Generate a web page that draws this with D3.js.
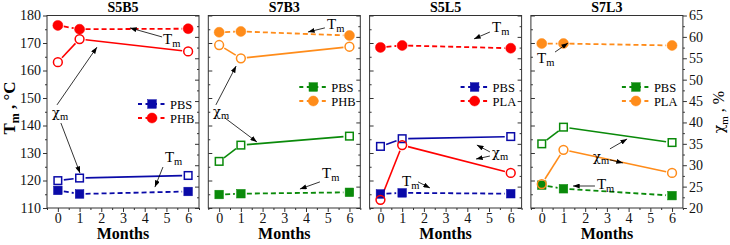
<!DOCTYPE html>
<html lang="en">
<head>
<meta charset="utf-8" />
<title>Tm and crystallinity vs months</title>
<!-- D3 -->
<script src="https://cdnjs.cloudflare.com/ajax/libs/d3/7.8.5/d3.min.js"></script>
<style>
  html, body { margin: 0; padding: 0; background: #fff; }
  svg { display: block; font-family: "Liberation Serif", "Times New Roman", serif; }
  .chi { font-family: "DejaVu Serif", serif; }
</style>
</head>
<body>
<div id="chart"></div>
<script>
// months at which the samples were measured
var months = [0, 1, 6];
var panelNames = ["S5B5", "S7B3", "S5L5", "S7L3"];
var partnerNames = ["PHB", "PHB", "PLA", "PLA"];

// melting temperature Tm, °C (left axis)
var pbsTm = [[116.4, 115.1, 116.0], [114.9, 115.2, 115.7], [115.1, 115.5, 115.2], [118.3, 117.0, 114.5]];
var partnerTm = [[176.4, 175.0, 175.2], [173.9, 174.2, 172.7], [168.4, 169.1, 168.1], [169.8, 169.8, 169.1]];

// crystallinity χm, % (right axis)
var pbsXm = [[26.4, 27.0, 27.6], [30.9, 34.7, 36.8], [34.4, 36.2, 36.7], [35.0, 38.9, 35.3]];
var partnerXm = [[54.1, 59.5, 56.6], [58.1, 55.0, 57.7], [21.9, 34.7, 28.2], [25.6, 33.6, 28.2]];

// tick labels
var tmTicks = [110, 120, 130, 140, 150, 160, 170, 180];
var xmTicks = [20, 25, 30, 35, 40, 45, 50, 55, 60, 65];
var monthTicks = [0, 1, 2, 3, 4, 5, 6];

// arrow notes, in data units (month, °C on left axis)
var notes = [
  [{label: "T", at: [4.84, 169.8], arrows: [[4.80, 172.2, 3.32, 175.5]]},
   {label: "χ", at: [-0.27, 143.1], arrows: [[-0.04, 147.5, 1.80, 168.5], [0.14, 140.9, 1.02, 122.7]]},
   {label: "T", at: [4.93, 126.7], arrows: [[4.84, 124.9, 4.47, 117.6]]}],
  [{label: "T", at: [4.97, 175.1], arrows: [[4.87, 175.5, 4.09, 174.0]]},
   {label: "χ", at: [-0.28, 143.5], arrows: [[-0.15, 147.5, 0.78, 161.6], [0.27, 142.7, 1.74, 134.0]]},
   {label: "T", at: [4.74, 120.9], arrows: [[4.64, 119.5, 3.72, 116.9]]}],
  [{label: "T", at: [5.14, 174.0], arrows: [[5.04, 174.0, 4.31, 171.5]]},
   {label: "χ", at: [5.14, 128.5], arrows: [[5.04, 130.4, 4.44, 132.9], [5.04, 128.9, 4.40, 127.8]]},
   {label: "T", at: [0.99, 118.0], arrows: [[1.73, 119.5, 2.28, 117.3]]}],
  [{label: "T", at: [-0.22, 162.7], arrows: [[0.61, 166.7, 1.21, 170.0]]},
   {label: "χ", at: [2.36, 127.1], arrows: [[3.14, 131.5, 3.93, 135.1], [3.14, 127.5, 3.74, 126.4]]},
   {label: "T", at: [2.54, 116.9], arrows: [[2.45, 118.0, 1.44, 118.0]]}]
];

// colours per panel
var pbsColors = ["#0a0aa8", "#0a8a0a", "#0a0aa8", "#0a8a0a"];
var partnerColors = ["#ff0000", "#ff8c1a", "#ff0000", "#ff8c1a"];

// layout
var panelLeft = 47, panelWidth = 152, panelGap = 9.3;
var plotTop = 15.5, plotBottom = 208;

var svg = d3.select("#chart").append("svg")
    .attr("width", 730)
    .attr("height", 245);

// arrow head
svg.append("defs").append("marker")
    .attr("id", "arrow")
    .attr("viewBox", "0 0 8 6")
    .attr("refX", 8).attr("refY", 3)
    .attr("markerWidth", 7).attr("markerHeight", 5)
    .attr("markerUnits", "userSpaceOnUse")
    .attr("orient", "auto")
  .append("path")
    .attr("d", "M0,0L8,3L0,6Z")
    .attr("fill", "#000");

var yT = d3.scaleLinear().domain([110, 180]).range([plotBottom, plotTop]);
var yX = d3.scaleLinear().domain([20, 65]).range([plotBottom, plotTop]);

// line split into segments that stop short of the symbols
function drawGapLine(g, pts, color, dashed, gap) {
  for (var i = 0; i < pts.length - 1; i++) {
    var a = pts[i], b = pts[i + 1];
    var dx = b[0] - a[0], dy = b[1] - a[1];
    var len = Math.sqrt(dx * dx + dy * dy);
    if (len < gap * 2) continue;
    var ux = dx / len, uy = dy / len;
    g.append("line")
        .attr("x1", a[0] + ux * gap).attr("y1", a[1] + uy * gap)
        .attr("x2", b[0] - ux * gap).attr("y2", b[1] - uy * gap)
        .attr("stroke", color)
        .attr("stroke-width", dashed ? 1.8 : 1.6)
        .attr("stroke-dasharray", dashed ? "5,3" : null);
  }
}

function drawSymbol(g, cx, cy, shape, filled, color) {
  if (shape == "square") {
    var s = filled ? 8.6 : 7.6;
    g.append("rect")
        .attr("x", cx - s / 2).attr("y", cy - s / 2)
        .attr("width", s).attr("height", s)
        .attr("fill", filled ? color : "none")
        .attr("stroke", color)
        .attr("stroke-width", filled ? 0.5 : 1.5);
  } else {
    g.append("circle")
        .attr("cx", cx).attr("cy", cy)
        .attr("r", filled ? 5 : 4.4)
        .attr("fill", filled ? color : "none")
        .attr("stroke", color)
        .attr("stroke-width", filled ? 0.5 : 1.5);
  }
}

function styleAxis(a, size) {
  a.select(".domain").remove();
  a.attr("font-family", null).attr("font-size", null);
  a.selectAll("line").attr("stroke", "#333");
  a.selectAll("text").attr("font-size", size).attr("fill", "#111");
}

panelNames.forEach(function(name, p) {
  var left = panelLeft + p * (panelWidth + panelGap);
  var right = left + panelWidth;
  var x = d3.scaleLinear().domain([-0.5, 6.5]).range([left, right]);
  var g = svg.append("g");

  // bottom axis, major and minor ticks
  styleAxis(g.append("g").attr("transform", "translate(0," + plotBottom + ")")
      .call(d3.axisBottom(x).tickValues(monthTicks).tickFormat(d3.format("d"))
        .tickSize(4).tickSizeOuter(0).tickPadding(1)), "14px");
  styleAxis(g.append("g").attr("transform", "translate(0," + plotBottom + ")")
      .call(d3.axisBottom(x).tickValues(d3.range(-0.5, 6.6, 1)).tickSize(2).tickSizeOuter(0).tickFormat("")), "14px");

  // left edge: labels on the first panel, inner ticks elsewhere
  var tmMinor = d3.range(115, 180, 10);
  if (p == 0) {
    styleAxis(g.append("g").attr("transform", "translate(" + left + ",0)")
        .call(d3.axisLeft(yT).tickValues(tmTicks).tickSize(4).tickSizeOuter(0).tickPadding(2)), "14px");
    styleAxis(g.append("g").attr("transform", "translate(" + left + ",0)")
        .call(d3.axisLeft(yT).tickValues(tmMinor).tickSize(2).tickSizeOuter(0).tickFormat("")), "14px");
  } else {
    styleAxis(g.append("g").attr("transform", "translate(" + left + ",0)")
        .call(d3.axisRight(yT).tickValues(tmTicks).tickSize(4).tickSizeOuter(0).tickFormat("")), "14px");
    styleAxis(g.append("g").attr("transform", "translate(" + left + ",0)")
        .call(d3.axisRight(yT).tickValues(tmMinor).tickSize(2).tickSizeOuter(0).tickFormat("")), "14px");
  }

  // right edge: labels on the last panel
  var xmMinor = d3.range(22.5, 65, 5);
  if (p == 3) {
    styleAxis(g.append("g").attr("transform", "translate(" + right + ",0)")
        .call(d3.axisRight(yX).tickValues(xmTicks).tickSize(4).tickSizeOuter(0).tickPadding(2)), "14px");
    styleAxis(g.append("g").attr("transform", "translate(" + right + ",0)")
        .call(d3.axisRight(yX).tickValues(xmMinor).tickSize(2).tickSizeOuter(0).tickFormat("")), "14px");
  } else {
    styleAxis(g.append("g").attr("transform", "translate(" + right + ",0)")
        .call(d3.axisLeft(yX).tickValues(xmTicks).tickSize(4).tickSizeOuter(0).tickFormat("")), "14px");
    styleAxis(g.append("g").attr("transform", "translate(" + right + ",0)")
        .call(d3.axisLeft(yX).tickValues(xmMinor).tickSize(2).tickSizeOuter(0).tickFormat("")), "14px");
  }

  // frame
  g.append("rect")
      .attr("x", left).attr("y", plotTop)
      .attr("width", panelWidth).attr("height", plotBottom - plotTop)
      .attr("fill", "none")
      .attr("stroke", "#333")
      .attr("stroke-width", 1);

  // title and x label
  g.append("text")
      .attr("x", (left + right) / 2).attr("y", 12)
      .attr("text-anchor", "middle")
      .attr("font-weight", "bold").attr("font-size", "14px")
      .text(name);
  g.append("text")
      .attr("x", (left + right) / 2).attr("y", 239)
      .attr("text-anchor", "middle")
      .attr("font-weight", "bold").attr("font-size", "16px")
      .text("Months");

  // series: [values, scale, colour, dashed, shape, filled]
  var series = [
    [pbsTm[p], yT, pbsColors[p], true, "square", true],
    [partnerTm[p], yT, partnerColors[p], true, "circle", true],
    [pbsXm[p], yX, pbsColors[p], false, "square", false],
    [partnerXm[p], yX, partnerColors[p], false, "circle", false]
  ];
  series.forEach(function(s) {
    var pts = s[0].map(function(v, i) { return [x(months[i]), s[1](v)]; });
    drawGapLine(g, pts, s[2], s[3], 6);
  });
  series.forEach(function(s) {
    s[0].forEach(function(v, i) {
      drawSymbol(g, x(months[i]), s[1](v), s[4], s[5], s[2]);
    });
  });

  // legend
  var ly = p == 0 ? 104 : 87;
  [["PBS", pbsColors[p], "square"], [partnerNames[p], partnerColors[p], "circle"]].forEach(function(item, k) {
    var lg = g.append("g").attr("transform", "translate(" + (left + 91) + "," + (ly + k * 14) + ")");
    lg.append("line")
        .attr("x1", 0).attr("x2", 28).attr("y1", 0).attr("y2", 0)
        .attr("stroke", item[1]).attr("stroke-width", 1.8)
        .attr("stroke-dasharray", "4,3.5");
    drawSymbol(lg, 14, 0, item[2], true, item[1]);
    lg.append("text")
        .attr("x", 32).attr("y", 4.5)
        .attr("font-size", "12.5px")
        .text(item[0]);
  });

  // arrow notes
  notes[p].forEach(function(n) {
    var t = g.append("text")
        .attr("x", x(n.at[0])).attr("y", yT(n.at[1]))
        .attr("font-size", "15px");
    t.append("tspan")
        .attr("class", n.label == "χ" ? "chi" : null)
        .attr("font-size", n.label == "χ" ? "13px" : null)
        .text(n.label);
    t.append("tspan").attr("font-size", "10.5px").attr("dy", 3).text("m");
    n.arrows.forEach(function(a) {
      g.append("line")
          .attr("x1", x(a[0])).attr("y1", yT(a[1]))
          .attr("x2", x(a[2])).attr("y2", yT(a[3]))
          .attr("stroke", "#000").attr("stroke-width", 0.8)
          .attr("marker-end", "url(#arrow)");
    });
  });
});

// axis titles
var lt = svg.append("text")
    .attr("transform", "translate(15,108) rotate(-90)")
    .attr("text-anchor", "middle")
    .attr("font-weight", "bold").attr("font-size", "17px");
lt.append("tspan").text("T");
lt.append("tspan").attr("font-size", "12px").attr("dy", 4).text("m");
lt.append("tspan").attr("dy", -4).text(" , °C");

var rt = svg.append("text")
    .attr("transform", "translate(724,112) rotate(-90)")
    .attr("text-anchor", "middle")
    .attr("font-size", "16px");
rt.append("tspan").attr("class", "chi").attr("font-size", "14px").text("χ");
rt.append("tspan").attr("font-size", "11px").attr("dy", 4).text("m");
rt.append("tspan").attr("dy", -4).text(" , %");
</script>
</body>
</html>
